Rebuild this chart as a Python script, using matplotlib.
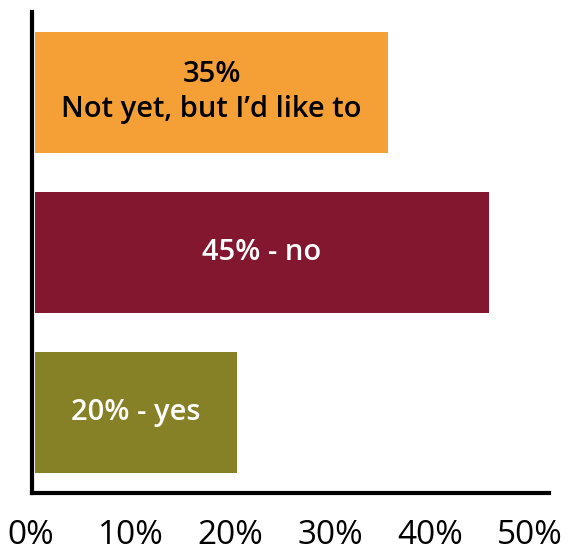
import matplotlib.pyplot as plt
from matplotlib.transforms import ScaledTranslation

plt.rcParams["font.family"] = ["Open Sans", "DejaVu Sans"]

labels = ["35%\nNot yet, but I\u2019d like to", "45% - no", "20% - yes"]
values = [35, 45, 20]
colors = ["#F4A037", "#82172F", "#868026"]
text_colors = ["black", "white", "white"]
xticks = [0, 10, 20, 30, 40, 50]
xtick_labels = ["0%", "10%", "20%", "30%", "40%", "50%"]

fig = plt.figure(figsize=(5.82, 5.49), dpi=100)
ax = fig.add_axes([32 / 582, 56 / 549, 517 / 582, 481 / 549])

positions = range(len(values))
ax.barh(positions, values, height=0.755, color=colors)

for pos, val, lab, tc in zip(positions, values, labels, text_colors):
    ax.text(val / 2, pos, lab, ha="center", va="center",
            color=tc, fontsize=21, fontweight="semibold", linespacing=1.25)

ax.set_ylim(2.5, -0.5)
ax.set_xlim(-0.3, 50.95)
ax.set_xticks(xticks)
ax.set_xticklabels(xtick_labels, fontsize=24)
ax.set_yticks([])
ax.tick_params(axis="x", length=0, pad=19)

# labels in the original sit a little left of their ticks
for i, t in enumerate(ax.get_xticklabels()):
    t.set_transform(t.get_transform() + ScaledTranslation(-(4 + 1.2 * i) / 100, 0, fig.dpi_scale_trans))

for side in ["top", "right"]:
    ax.spines[side].set_visible(False)
for side in ["left", "bottom"]:
    ax.spines[side].set_linewidth(3)

fig.savefig("out.png", dpi=100)
